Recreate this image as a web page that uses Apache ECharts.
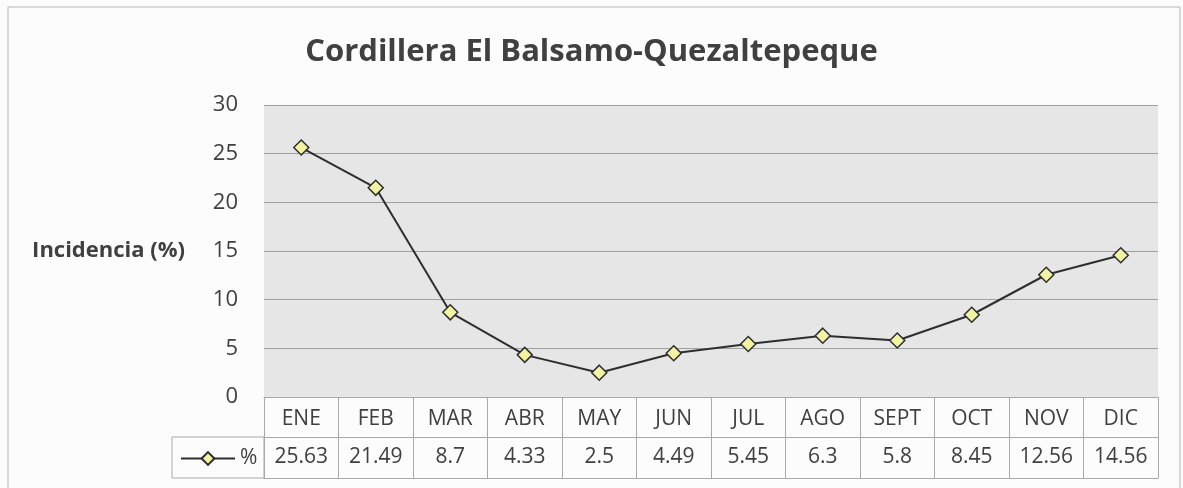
<!DOCTYPE html>
<html>
<head>
<meta charset="utf-8">
<script src="https://cdn.jsdelivr.net/npm/echarts@6/dist/echarts.min.js"></script>
<style>
  html, body { margin: 0; padding: 0; background: #fff; }
  #chart { width: 1183px; height: 488px; }
</style>
</head>
<body>
<div id="chart"></div>
<script>
// datos
const months = ['ENE', 'FEB', 'MAR', 'ABR', 'MAY', 'JUN', 'JUL', 'AGO', 'SEPT', 'OCT', 'NOV', 'DIC']
const incidencia = [25.63, 21.49, 8.7, 4.33, 2.5, 4.49, 5.45, 6.3, 5.8, 8.45, 12.56, 14.56]
const yTicks = [0, 5, 10, 15, 20, 25, 30]

const textColor = '#404040'
const cellLine = '#a9a9a9'
const font = '"Open Sans", sans-serif'

let chart = echarts.init(document.getElementById('chart'))
let option = {
  backgroundColor: '#fcfcfc',
  animation: false,
  title: {
    text: 'Cordillera El Balsamo-Quezaltepeque',
    left: 'center',
    top: 32,
    textStyle: { fontFamily: font, fontSize: 31, fontWeight: 'bold', color: textColor }
  },
  legend: {
    data: ['%'],
    left: 175,
    top: 443,
    itemWidth: 54,
    itemHeight: 16,
    itemGap: 0,
    textStyle: { fontFamily: font, fontSize: 21, color: textColor }
  },
  grid: {
    left: 264,
    right: 25,
    top: 105,
    bottom: 91,
    show: true,
    backgroundColor: '#e6e6e6',
    borderWidth: 0
  },
  xAxis: [
    {
      // fila de meses de la tabla
      type: 'category',
      data: months,
      boundaryGap: true,
      axisLine: { show: true, lineStyle: { color: cellLine, width: 1 } },
      axisTick: { show: true, alignWithLabel: false, length: 81, lineStyle: { color: cellLine, width: 1 } },
      axisLabel: { margin: 22, verticalAlign: 'middle', fontFamily: font, fontSize: 21, color: textColor }
    },
    {
      // fila de valores
      type: 'category',
      data: months,
      position: 'bottom',
      offset: 40,
      axisLine: { show: true, lineStyle: { color: cellLine, width: 1 } },
      axisTick: { show: false },
      axisLabel: {
        margin: 20,
        verticalAlign: 'middle',
        fontFamily: font,
        fontSize: 21,
        color: textColor,
        formatter: (v, i) => String(incidencia[i])
      }
    },
    {
      type: 'category',
      data: months,
      position: 'bottom',
      offset: 81,
      axisLine: { show: true, lineStyle: { color: cellLine, width: 1 } },
      axisTick: { show: false },
      axisLabel: { show: false }
    }
  ],
  yAxis: {
    type: 'value',
    min: yTicks[0],
    max: yTicks[yTicks.length - 1],
    interval: 5,
    name: 'Incidencia (%)',
    nameLocation: 'middle',
    nameRotate: 0,
    nameGap: 79,
    nameTextStyle: { fontFamily: font, fontSize: 22, fontWeight: 'bold', color: textColor },
    axisLine: { show: false },
    axisTick: { show: false },
    axisLabel: { margin: 26, fontFamily: font, fontSize: 22, color: textColor },
    splitLine: { lineStyle: { color: '#a0a0a0', width: 1 } }
  },
  graphic: [
    {
      // marco exterior
      type: 'rect',
      shape: { x: 8, y: 7, width: 1172, height: 500 },
      style: { fill: 'none', stroke: '#b5b5b5', lineWidth: 1 },
      silent: true
    },
    {
      // celda de la leyenda
      type: 'rect',
      shape: { x: 172, y: 437, width: 92, height: 41 },
      style: { fill: 'none', stroke: cellLine, lineWidth: 1 },
      silent: true
    }
  ],
  series: [
    {
      name: '%',
      type: 'line',
      data: incidencia,
      symbol: 'diamond',
      symbolSize: 15,
      lineStyle: { color: '#2e2e2e', width: 2 },
      itemStyle: { color: '#f3f3a6', borderColor: '#2e2e2e', borderWidth: 1.5 }
    }
  ]
}
chart.setOption(option)
</script>
</body>
</html>
